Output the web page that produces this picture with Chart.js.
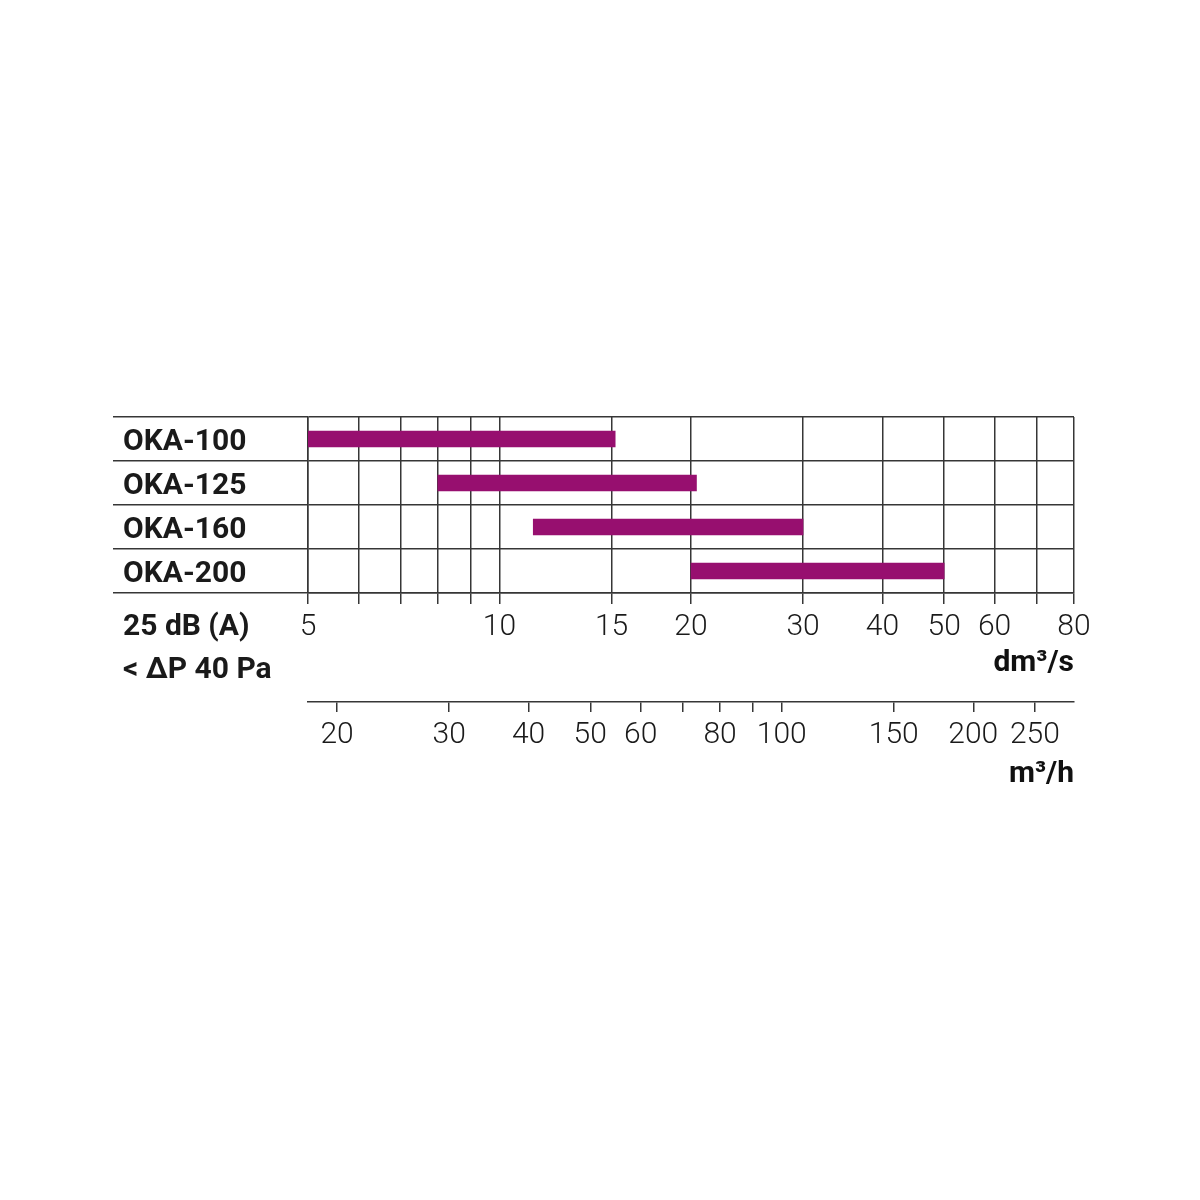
<!DOCTYPE html>
<html>
<head>
<meta charset="utf-8">
<script src="https://cdn.jsdelivr.net/npm/chart.js@4/dist/chart.umd.min.js"></script>
<style>
  html, body { margin: 0; padding: 0; background: #fff; }
  #wrap { width: 1200px; height: 1200px; }
</style>
</head>
<body>
<div id="wrap"><canvas id="okaChart" width="1200" height="1200"></canvas></div>
<script>
// data
const models = ['OKA-100', 'OKA-125', 'OKA-160', 'OKA-200'];
const flowFrom = [5, 8, 11.3, 20];      // dm3/s
const flowTo = [15.2, 20.4, 30, 50];    // dm3/s

// dm3/s axis
const dmGrid = [5, 6, 7, 8, 9, 10, 15, 20, 30, 40, 50, 60, 70, 80];
const dmLabels = [5, 10, 15, 20, 30, 40, 50, 60, 80];

// m3/h axis (1 dm3/s = 3.6 m3/h)
const mhGrid = [20, 30, 40, 50, 60, 70, 80, 90, 100, 150, 200, 250];
const mhLabels = [20, 30, 40, 50, 60, 80, 100, 150, 200, 250];

const notes = ['25 dB (A)', '< ΔP 40 Pa'];

const lineColor = '#363636';
const barColor = '#970f6f';

Chart.defaults.font.family = 'Roboto';
Chart.defaults.color = '#1a1a1a';

// side notes under the model names
const notesPlugin = {
  id: 'notes',
  afterDraw(chart) {
    const ctx = chart.ctx;
    ctx.save();
    ctx.font = 'bold 30px Roboto';
    ctx.fillStyle = '#1a1a1a';
    ctx.textAlign = 'left';
    ctx.textBaseline = 'alphabetic';
    ctx.fillText(notes[0], 123, 635);
    ctx.fillText(notes[1], 123, 678);
    ctx.restore();
  }
};

const ctx = document.getElementById('okaChart');
const chart = new Chart(ctx, {
  type: 'bar',
  data: {
    labels: models,
    datasets: [{
      data: models.map((m, i) => [flowFrom[i], flowTo[i]]),
      backgroundColor: barColor,
      borderWidth: 0,
      barThickness: 16,
      xAxisID: 'x',
      yAxisID: 'y'
    }]
  },
  options: {
    indexAxis: 'y',
    responsive: false,
    animation: false,
    devicePixelRatio: 1,
    layout: {
      padding: { left: 123, right: 126, top: 417, bottom: 398 }
    },
    plugins: {
      legend: { display: false },
      tooltip: { enabled: false }
    },
    scales: {
      y: {
        weight: 1,
        afterFit: (axis) => { axis.width = 185; },
        grid: { color: lineColor, lineWidth: 1.5, tickLength: 195, tickColor: lineColor },
        border: { color: lineColor, width: 1.5 },
        ticks: {
          crossAlign: 'far',
          labelOffset: 3,
          color: '#1a1a1a',
          font: { size: 30, weight: 'bold' }
        }
      },
      x: {
        type: 'logarithmic',
        position: 'bottom',
        weight: 1,
        min: 5,
        max: 80,
        afterFit: (axis) => { axis.height = 109; },
        afterBuildTicks: (axis) => { axis.ticks = dmGrid.map(v => ({ value: v })); },
        grid: { color: lineColor, lineWidth: 1.5, tickLength: 11, tickColor: lineColor },
        border: { color: lineColor, width: 1.5 },
        ticks: {
          autoSkip: false,
          maxRotation: 0,
          padding: 5,
          color: '#1a1a1a',
          font: { size: 30, weight: 300 },
          callback: (v) => dmLabels.includes(v) ? String(v) : ''
        },
        title: {
          display: true,
          text: 'dm³/s',
          align: 'end',
          color: '#111',
          font: { size: 30, weight: 'bold' },
          padding: { top: 0, bottom: 21 }
        }
      },
      x2: {
        type: 'logarithmic',
        position: 'bottom',
        weight: 2,
        min: 18,
        max: 288,
        afterFit: (axis) => { axis.height = 100; },
        afterBuildTicks: (axis) => { axis.ticks = mhGrid.map(v => ({ value: v })); },
        grid: { drawOnChartArea: false, tickLength: 10, color: lineColor, lineWidth: 1.5 },
        border: { color: lineColor, width: 1.5 },
        ticks: {
          autoSkip: false,
          maxRotation: 0,
          padding: 5,
          color: '#1a1a1a',
          font: { size: 30, weight: 300 },
          callback: (v) => mhLabels.includes(v) ? String(v) : ''
        },
        title: {
          display: true,
          text: 'm³/h',
          align: 'end',
          color: '#111',
          font: { size: 30, weight: 'bold' },
          padding: { top: 0, bottom: 10 }
        }
      }
    }
  },
  plugins: [notesPlugin]
});
</script>
</body>
</html>
